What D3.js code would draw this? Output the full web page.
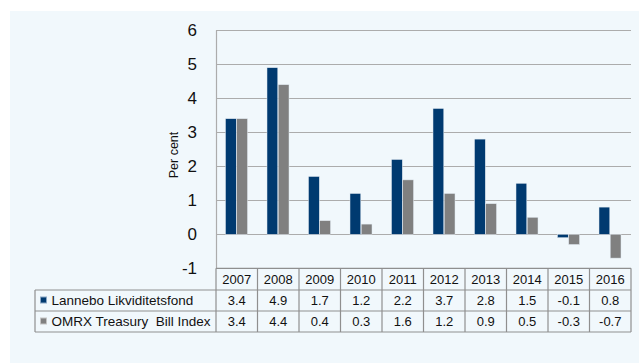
<!DOCTYPE html>
<html>
<head>
<meta charset="utf-8">
<script src="https://cdn.jsdelivr.net/npm/d3@7"></script>
<style>
  body { margin: 0; background: #fff; }
  svg { display: block; font-family: "Liberation Sans", Arial, sans-serif; }
</style>
</head>
<body>
<script>
// data
const years = ["2007", "2008", "2009", "2010", "2011", "2012", "2013", "2014", "2015", "2016"];
const seriesNames = ["Lannebo Likviditetsfond", "OMRX Treasury  Bill Index"];
const lannebo = [3.4, 4.9, 1.7, 1.2, 2.2, 3.7, 2.8, 1.5, -0.1, 0.8];
const omrx = [3.4, 4.4, 0.4, 0.3, 1.6, 1.2, 0.9, 0.5, -0.3, -0.7];
const yTicks = [-1, 0, 1, 2, 3, 4, 5, 6];
const colors = ["#003a70", "#808080"];

const W = 639, H = 363;
const svg = d3.select("body").append("svg").attr("width", W).attr("height", H);

// panel background
svg.append("rect").attr("x", 10).attr("y", 11).attr("width", W - 10).attr("height", H - 11)
  .attr("fill", "#f1f8fc");

// scales
const x = d3.scaleBand().domain(years).range([216, 631]);
const xs = d3.scaleBand().domain([0, 1]).range([9.5, 31.5]).paddingInner(0.04);
const y = d3.scaleLinear().domain([-1, 6]).range([268.3, 30.3]);

// gridlines
svg.append("g").selectAll("line").data(yTicks.filter(d => d > -1)).join("line")
  .attr("x1", 216).attr("x2", 631)
  .attr("y1", d => Math.round(y(d)) + 0.5).attr("y2", d => Math.round(y(d)) + 0.5)
  .attr("stroke", "#acacac").attr("stroke-width", 1.2);

// left axis line
svg.append("line").attr("x1", 216.5).attr("x2", 216.5).attr("y1", y(6)).attr("y2", y(-1))
  .attr("stroke", "#acacac").attr("stroke-width", 1.2);

// y labels
svg.append("g").selectAll("text").data(yTicks).join("text")
  .attr("x", 197).attr("y", d => y(d)).attr("dy", "0.36em")
  .attr("text-anchor", "end").attr("font-size", 17).attr("fill", "#111")
  .text(d => d);

svg.append("text")
  .attr("transform", "translate(178,155) rotate(-90)")
  .attr("text-anchor", "middle").attr("font-size", 12.5).attr("fill", "#111")
  .text("Per cent");

// bars
const series = [lannebo, omrx];
series.forEach((vals, si) => {
  svg.append("g").selectAll("rect").data(vals).join("rect")
    .attr("x", (d, i) => x(years[i]) + xs(si))
    .attr("width", xs.bandwidth())
    .attr("y", d => y(Math.max(0, d)))
    .attr("height", d => Math.abs(y(d) - y(0)))
    .attr("fill", colors[si])
    .attr("stroke", "#dfe8f0").attr("stroke-width", 0.5);
});

// data table
const rowTop = [268.3, 290, 311, 332];
const tableLine = "#8f8f8f";
const tg = svg.append("g").attr("stroke", tableLine).attr("stroke-width", 1.2);
// horizontal lines
tg.append("line").attr("x1", 216).attr("x2", 631).attr("y1", rowTop[0]).attr("y2", rowTop[0]);
[1, 2, 3].forEach(i => tg.append("line").attr("x1", 35).attr("x2", 631).attr("y1", rowTop[i]).attr("y2", rowTop[i]));
// vertical lines
years.forEach(yr => tg.append("line").attr("x1", x(yr)).attr("x2", x(yr)).attr("y1", rowTop[0]).attr("y2", rowTop[3]));
tg.append("line").attr("x1", 631).attr("x2", 631).attr("y1", rowTop[0]).attr("y2", rowTop[3]);
tg.append("line").attr("x1", 35).attr("x2", 35).attr("y1", rowTop[1]).attr("y2", rowTop[3]);

// year headers
svg.append("g").selectAll("text").data(years).join("text")
  .attr("x", d => x(d) + x.bandwidth() / 2).attr("y", (rowTop[0] + rowTop[1]) / 2)
  .attr("dy", "0.36em").attr("text-anchor", "middle").attr("font-size", 13).attr("fill", "#111")
  .text(d => d);

// value rows + legend
series.forEach((vals, si) => {
  const cy = (rowTop[si + 1] + rowTop[si + 2]) / 2;
  svg.append("g").selectAll("text").data(vals).join("text")
    .attr("x", (d, i) => x(years[i]) + x.bandwidth() / 2).attr("y", cy)
    .attr("dy", "0.36em").attr("text-anchor", "middle").attr("font-size", 13).attr("fill", "#111")
    .text(d => d);
  svg.append("rect").attr("x", 40.5).attr("y", cy - 3.5).attr("width", 6).attr("height", 6)
    .attr("fill", colors[si]).attr("stroke", si === 0 ? "#8aa6c4" : "#c4c4c4").attr("stroke-width", 1);
  svg.append("text").attr("x", 51.5).attr("y", cy).attr("dy", "0.36em")
    .attr("font-size", 13.5).attr("fill", "#111").style("white-space", "pre")
    .text(seriesNames[si]);
});
</script>
</body>
</html>
